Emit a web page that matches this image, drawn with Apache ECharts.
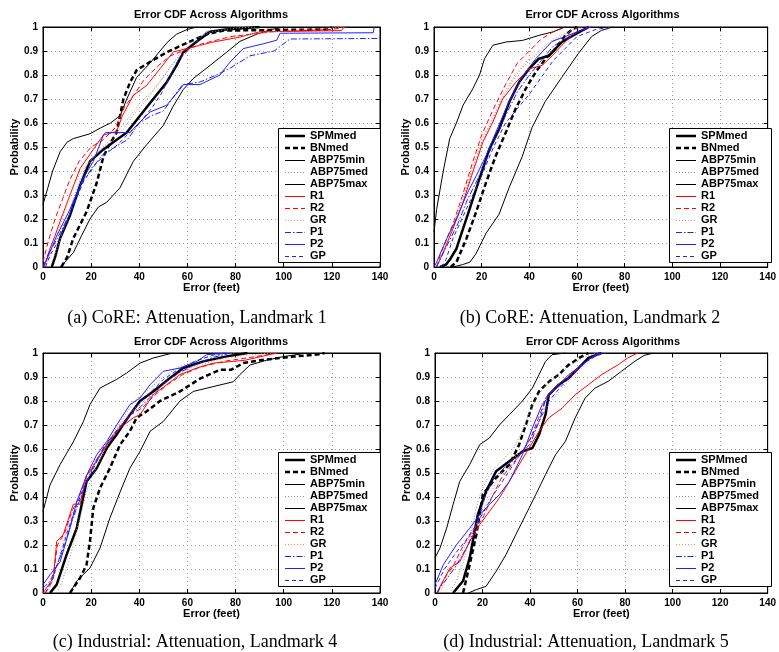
<!DOCTYPE html>
<html><head><meta charset="utf-8">
<script src="https://cdn.jsdelivr.net/npm/echarts@6/dist/echarts.min.js"></script>
<style>html,body{margin:0;padding:0;background:#fff}#c{width:779px;height:652px}</style>
</head><body><div id="c"></div><script>
// ---- data: [error (feet), cumulative probability] ----
const seriesNames = ['SPMmed','BNmed','ABP75min','ABP75med','ABP75max','R1','R2','GR','P1','P2','GP'];
const xTicks = [0,20,40,60,80,100,120,140];
const yTicks = [0,0.1,0.2,0.3,0.4,0.5,0.6,0.7,0.8,0.9,1];
const panelTitle = 'Error CDF Across Algorithms';
const captions = ['(a) CoRE: Attenuation, Landmark 1','(b) CoRE: Attenuation, Landmark 2','(c) Industrial: Attenuation, Landmark 4','(d) Industrial: Attenuation, Landmark 5'];

// Panel (a)
const a_SPMmed = [[3.6,0],[5,0.04],[7.1,0.12],[11.2,0.215],[15.4,0.34],[19.5,0.44],[25.1,0.49],[29.2,0.52],[34.8,0.56],[40.3,0.63],[45.8,0.70],[51.4,0.77],[55.5,0.84],[58.3,0.895],[63.9,0.94],[69.4,0.98],[76,0.99],[90,1]];
const a_BNmed = [[7.6,0],[10,0.04],[12.6,0.12],[18.1,0.23],[22.3,0.35],[25.1,0.46],[27,0.5],[30.6,0.56],[33.4,0.70],[36.2,0.77],[38.9,0.82],[44.5,0.855],[51.4,0.895],[60,0.935],[68,0.97],[75,0.985],[118,0.99],[120,1]];
const a_ABP75min = [[0,0.26],[2,0.33],[4,0.4],[7.1,0.48],[10,0.52],[12.6,0.535],[19.5,0.555],[24,0.58],[28,0.6],[32,0.63],[34.8,0.70],[38.9,0.79],[44.5,0.85],[48.6,0.9],[52,0.94],[55.5,0.97],[60,0.99],[64,1]];
const a_ABP75med = [[3,0],[6,0.08],[10,0.2],[14,0.33],[18,0.42],[23,0.48],[28,0.52],[33,0.57],[38,0.64],[44,0.71],[50,0.79],[54,0.85],[58,0.9],[63,0.95],[70,0.98],[80,0.995],[88,1]];
const a_ABP75max = [[7.1,0],[10,0.03],[12.6,0.06],[16,0.13],[19.5,0.2],[23,0.25],[26.5,0.27],[32,0.33],[37.5,0.44],[43.1,0.51],[50,0.59],[54.1,0.67],[58.3,0.74],[62.4,0.785],[69.4,0.84],[76.3,0.895],[81.8,0.94],[88.8,0.97],[95,0.99],[100,1]];
const a_R1 = [[0.5,0],[2.9,0.076],[5,0.13],[7.1,0.19],[11.2,0.3],[15.4,0.41],[20.9,0.49],[25.1,0.55],[30.6,0.565],[33,0.63],[37.5,0.715],[43.1,0.757],[48.6,0.826],[54.1,0.896],[59.7,0.91],[70.8,0.9375],[81.8,0.958],[90,0.98],[124,0.985],[125,1]];
const a_R2 = [[0,0.02],[2,0.1],[5,0.2],[8,0.28],[11,0.36],[15,0.44],[20,0.5],[25,0.53],[30,0.58],[34,0.67],[38,0.72],[42,0.78],[48,0.84],[53,0.88],[58,0.9],[66,0.93],[78,0.96],[95,0.98],[120,0.99],[126,1]];
const a_GR = [[1,0],[4,0.08],[8,0.2],[12,0.32],[16,0.4],[22,0.47],[28,0.53],[34,0.6],[40,0.68],[46,0.74],[52,0.82],[57,0.88],[64,0.92],[75,0.95],[90,0.975],[110,0.99],[125,1]];
const a_P1 = [[0,0],[2,0.05],[6,0.12],[11,0.22],[16,0.35],[21,0.42],[25,0.47],[30,0.5],[35,0.53],[40,0.6],[45,0.63],[50,0.65],[55,0.72],[58,0.76],[65,0.77],[72,0.8],[78,0.83],[86,0.88],[96,0.9],[102.6,0.95],[150,0.953]];
const a_P2 = [[0,0],[1.5,0.03],[5.7,0.13],[11.2,0.24],[16.7,0.37],[20.9,0.44],[25.1,0.55],[26,0.56],[36.1,0.56],[38.9,0.59],[44.5,0.646],[51.4,0.674],[56.9,0.74],[58.3,0.76],[65.2,0.76],[73.5,0.80],[77.7,0.854],[83.2,0.91],[91.5,0.93],[97.1,0.945],[98.5,0.974],[137.2,0.976],[137.6,1]];
const a_GP = [[1,0],[3,0.05],[7,0.12],[12,0.24],[17,0.36],[22,0.43],[26,0.47],[31,0.51],[36,0.56],[40,0.6],[45,0.66],[49,0.72],[53,0.8],[56,0.86],[60,0.9],[64,0.94],[68,0.98],[70,1]];

// Panel (b)
const b_SPMmed = [[2.5,0],[5,0.01],[6.6,0.03],[9.4,0.076],[12.2,0.16],[15,0.243],[19.1,0.368],[23.3,0.493],[27.4,0.576],[31.6,0.6875],[35.7,0.77],[39.9,0.826],[44,0.868],[48.2,0.88],[51,0.91],[53.7,0.9375],[59.3,0.97],[65,1]];
const b_BNmed = [[7,0],[9.4,0.02],[13.6,0.118],[17.7,0.23],[21.9,0.354],[26,0.465],[30.2,0.5625],[34.3,0.66],[38.5,0.743],[42.7,0.8125],[46.8,0.868],[51,0.91],[55.1,0.965],[57.9,0.99],[60,1]];
const b_ABP75min = [[0,0.146],[1.1,0.24],[3.9,0.4],[6.6,0.535],[9.4,0.6],[12.2,0.674],[16.3,0.743],[19.1,0.8],[21.2,0.868],[24.7,0.924],[30.2,0.9375],[37.1,0.944],[44,0.965],[50,0.98],[55,1]];
const b_ABP75med = [[1,0],[4,0.06],[8,0.17],[12,0.28],[16,0.4],[20,0.52],[24,0.6],[28,0.69],[32,0.76],[36,0.82],[40,0.86],[45,0.9],[50,0.94],[55,0.97],[62,1]];
const b_ABP75max = [[8,0],[12,0.01],[15,0.02],[17.6,0.055],[21.8,0.14],[27.3,0.22],[31.5,0.33],[37,0.46],[41.1,0.58],[46.7,0.69],[53.6,0.79],[60.6,0.89],[66.1,0.96],[70.3,0.986],[75,1]];
const b_R1 = [[1.1,0],[3.9,0.0625],[8,0.16],[12.2,0.27],[16.3,0.396],[20.5,0.52],[24.7,0.604],[28.8,0.70],[34.3,0.77],[39.9,0.826],[45.4,0.84],[49.6,0.88],[53.7,0.924],[57.9,0.965],[62,0.99],[66,1]];
const b_R2 = [[1,0],[3,0.06],[8,0.18],[12,0.3],[16,0.43],[20,0.55],[25,0.66],[30,0.76],[35,0.85],[40,0.9],[45,0.95],[50,0.98],[55,1]];
const b_GR = [[1,0],[4,0.07],[8,0.17],[12,0.29],[16,0.41],[20,0.53],[25,0.63],[29,0.72],[34,0.8],[39,0.86],[44,0.9],[50,0.95],[56,0.98],[62,1]];
const b_P1 = [[1,0],[2,0.02],[6,0.1],[10,0.18],[14,0.28],[18,0.36],[22,0.45],[26,0.54],[30,0.63],[35,0.73],[40,0.8],[45,0.86],[50,0.92],[55,0.95],[60,0.98],[65,1]];
const b_P2 = [[0,0],[1.1,0.02],[5.3,0.118],[9.4,0.2],[13.6,0.3],[17.7,0.38],[21.9,0.465],[26,0.5625],[30.2,0.66],[34.3,0.743],[38.5,0.8125],[42.7,0.868],[45.4,0.896],[49.5,0.94],[55,0.96],[60,0.98],[66,1]];
const b_GP = [[3,0],[5,0.03],[8,0.12],[14,0.25],[20,0.38],[25,0.5],[30,0.6],[35,0.66],[40,0.72],[45,0.79],[50,0.86],[55,0.91],[60,0.96],[68,0.99],[75,1]];

// Panel (c)
const c_SPMmed = [[2.9,0],[5.7,0.035],[9.8,0.16],[14,0.27],[18.1,0.465],[22.3,0.52],[26.5,0.604],[30.6,0.66],[36.1,0.743],[40.3,0.8],[45.8,0.84],[52.8,0.896],[58.3,0.9375],[66.6,0.965],[76.3,0.986],[85,1]];
const c_BNmed = [[11.2,0],[15.4,0.0625],[18.1,0.118],[19.5,0.215],[20.9,0.354],[23.7,0.4375],[27.8,0.52],[32,0.618],[36.1,0.674],[38.9,0.73],[43.1,0.757],[48.6,0.8],[56.9,0.84],[65.2,0.893],[73.5,0.93],[78.1,0.93],[83.2,0.958],[90.2,0.97],[104,0.985],[115,0.995],[117,1]];
const c_ABP75min = [[0,0.34],[2.9,0.45],[7.1,0.535],[12.6,0.63],[16.8,0.715],[19.5,0.785],[23.7,0.854],[30.6,0.89],[34.8,0.917],[40.3,0.958],[45.8,0.979],[52,0.995],[54,1]];
const c_ABP75med = [[6,0],[8,0.05],[11,0.14],[15,0.3],[18,0.42],[21,0.5],[25,0.58],[29,0.66],[34,0.74],[38,0.8],[44,0.85],[50,0.9],[56,0.94],[64,0.97],[72,0.99],[80,1]];
const c_ABP75max = [[11.2,0],[14,0.05],[19.5,0.104],[23.7,0.1875],[27.8,0.3125],[32,0.42],[36.1,0.52],[40.3,0.59],[44.5,0.674],[50,0.715],[56.9,0.8],[62.5,0.84],[70.7,0.86],[79,0.88],[81.8,0.91],[86,0.95],[92.9,0.97],[99.8,0.985],[106.7,0.995],[108,1]];
const c_R1 = [[0,0],[4.3,0.0625],[5.7,0.215],[8.4,0.243],[12.6,0.37],[15.4,0.37],[18.1,0.49],[22.3,0.55],[26.5,0.618],[32,0.6875],[37.5,0.73],[40.3,0.743],[45.8,0.826],[51.4,0.868],[56.9,0.91],[63.9,0.9375],[70.8,0.958],[79,0.965],[84,0.97],[97,1]];
const c_R2 = [[1,0],[4,0.05],[6,0.2],[9,0.25],[12,0.34],[15,0.4],[18,0.48],[22,0.55],[26,0.61],[31,0.68],[36,0.74],[41,0.77],[46,0.82],[52,0.87],[58,0.91],[65,0.94],[75,0.965],[85,0.98],[98,1]];
const c_GR = [[2,0],[5,0.08],[8,0.2],[12,0.33],[16,0.42],[19,0.5],[23,0.57],[27,0.63],[32,0.7],[37,0.76],[42,0.8],[48,0.85],[54,0.9],[62,0.94],[72,0.97],[84,0.99],[95,1]];
const c_P1 = [[0,0.02],[3,0.05],[6,0.12],[9,0.2],[12,0.3],[15,0.38],[18,0.46],[22,0.55],[26,0.62],[31,0.68],[36,0.74],[41,0.78],[46,0.83],[51,0.88],[57,0.92],[63,0.95],[70,0.98],[78,1]];
const c_P2 = [[0,0.035],[2.9,0.076],[7.1,0.13],[11.2,0.27],[14,0.38],[18.1,0.49],[22.3,0.576],[26.5,0.632],[30.6,0.70],[36.1,0.785],[40.3,0.8125],[44.5,0.868],[50,0.924],[56.9,0.9375],[63.9,0.965],[68,0.993],[76.3,1]];
const c_GP = [[1,0],[4,0.06],[7,0.15],[10,0.25],[13,0.34],[17,0.44],[21,0.52],[25,0.6],[30,0.67],[35,0.73],[40,0.79],[45,0.84],[50,0.89],[56,0.93],[62,0.96],[70,0.99],[76,1]];

// Panel (d)
const d_SPMmed = [[7.6,0],[11.8,0.05],[14.6,0.146],[18,0.326],[21.5,0.424],[25.7,0.507],[31.3,0.549],[36.8,0.59],[41,0.604],[43.8,0.66],[46.5,0.743],[47.9,0.826],[52.1,0.868],[56.3,0.896],[60.4,0.9375],[64.6,0.98],[70,1]];
const d_BNmed = [[11.8,0],[14.6,0.118],[17.4,0.243],[20.1,0.41],[25.7,0.48],[31.3,0.535],[35.4,0.618],[38.2,0.70],[41,0.785],[43.8,0.84],[47.9,0.88],[52.1,0.91],[56.3,0.951],[61.8,0.986],[64.6,1]];
const d_ABP75min = [[0,0.146],[2.1,0.1875],[4.9,0.27],[7.6,0.368],[10.4,0.465],[14.6,0.535],[18.8,0.618],[22.9,0.646],[27.1,0.7],[31.3,0.743],[36.8,0.8],[41,0.854],[43.8,0.91],[46.5,0.965],[49.3,0.993],[54.9,1]];
const d_ABP75med = [[6,0],[9,0.05],[12,0.13],[15,0.25],[18,0.38],[21,0.46],[25,0.52],[29,0.56],[33,0.6],[37,0.68],[40,0.76],[43,0.82],[47,0.87],[52,0.91],[57,0.95],[62,0.98],[68,1]];
const d_ABP75max = [[14,0],[17.4,0.014],[21.5,0.028],[25.7,0.09],[29.9,0.16],[34,0.243],[38.2,0.326],[42.4,0.41],[46.5,0.493],[50.7,0.576],[54.9,0.632],[59,0.73],[63.2,0.8125],[67.4,0.854],[72.9,0.882],[78.5,0.924],[84,0.965],[88,0.99],[92,1]];
const d_R1 = [[0.7,0],[6.3,0.104],[10.4,0.13],[14.6,0.215],[18.8,0.285],[22.9,0.34],[27.1,0.396],[31.3,0.465],[35.4,0.535],[39.6,0.604],[43.8,0.674],[47.9,0.73],[53.5,0.77],[59,0.826],[64.6,0.868],[70.1,0.91],[77.1,0.951],[81.2,0.98],[85.4,1]];
const d_R2 = [[1,0],[4,0.06],[8,0.12],[12,0.2],[16,0.26],[20,0.31],[24,0.4],[28,0.48],[32,0.53],[36,0.58],[40,0.64],[44,0.74],[47,0.82],[52,0.87],[57,0.91],[62,0.95],[67,0.99],[70,1]];
const d_GR = [[2,0],[5,0.06],[9,0.13],[13,0.2],[17,0.28],[21,0.36],[25,0.45],[29,0.52],[33,0.56],[37,0.6],[41,0.66],[45,0.74],[49,0.8],[54,0.86],[60,0.92],[65,0.97],[70,1]];
const d_P1 = [[1,0],[2,0.02],[8,0.1],[14,0.2],[18,0.3],[21,0.4],[25,0.48],[30,0.53],[35,0.57],[40,0.62],[44,0.72],[47,0.82],[52,0.86],[58,0.91],[62,0.95],[66,0.98],[70,1]];
const d_P2 = [[0,0.035],[3.5,0.118],[9,0.2],[14.6,0.27],[18.8,0.326],[22.9,0.368],[27.1,0.41],[31.3,0.465],[36.8,0.576],[41,0.6875],[45.1,0.785],[50.7,0.854],[56.3,0.91],[61.8,0.951],[67.4,0.993],[70,1]];
const d_GP = [[0,0.02],[4,0.1],[9,0.17],[13,0.22],[17,0.28],[20,0.33],[24,0.4],[28,0.46],[32,0.52],[36,0.58],[40,0.64],[44,0.72],[48,0.8],[53,0.86],[58,0.91],[63,0.96],[68,0.99],[72,1]];

const panelData = [
  [a_SPMmed,a_BNmed,a_ABP75min,a_ABP75med,a_ABP75max,a_R1,a_R2,a_GR,a_P1,a_P2,a_GP],
  [b_SPMmed,b_BNmed,b_ABP75min,b_ABP75med,b_ABP75max,b_R1,b_R2,b_GR,b_P1,b_P2,b_GP],
  [c_SPMmed,c_BNmed,c_ABP75min,c_ABP75med,c_ABP75max,c_R1,c_R2,c_GR,c_P1,c_P2,c_GP],
  [d_SPMmed,d_BNmed,d_ABP75min,d_ABP75med,d_ABP75max,d_R1,d_R2,d_GR,d_P1,d_P2,d_GP]
];

// ---- styling / layout ----
const FONT = '"Liberation Sans", Arial, Helvetica, sans-serif';
const lineStyles = {
  SPMmed:   {color:'#000000', width:2.5, type:'solid'},
  BNmed:    {color:'#000000', width:2.5, type:[5,3]},
  ABP75min: {color:'#000000', width:1, type:'solid'},
  ABP75med: {color:'#8c8c8c', width:1, type:[1,2]},
  ABP75max: {color:'#000000', width:1, type:'solid'},
  R1:       {color:'#ff0000', width:1, type:'solid'},
  R2:       {color:'#ff0000', width:1, type:[5,3]},
  GR:       {color:'#ff8080', width:1, type:[1,2]},
  P1:       {color:'#2020ff', width:1, type:[6,2,1.5,2]},
  P2:       {color:'#2020ff', width:1, type:'solid'},
  GP:       {color:'#2020ff', width:1, type:[4,3]}
};
const gridBoxes = [
  {left:43, top:27, width:337, height:240},
  {left:434, top:27, width:337, height:240},
  {left:43, top:353, width:337, height:240},
  {left:435, top:353, width:336, height:240}
];
const legendPos = [[278,128],[669,128],[278,452],[669,452]];
const legendBox = {w:102, h:134, rowH:12, firstRow:8, lineX0:7, lineX1:27, textX:32};
const titlePos = [[211,15],[602.5,15],[211,342],[603,342]];
const captionPos = [[197,318],[590,318],[195,642],[586,642]];

const grids = gridBoxes.map(g => Object.assign({show:true, borderColor:'#000', borderWidth:1, backgroundColor:'#fff'}, g));
const xAxes = [], yAxes = [];
const baseX = {type:'value', min:xTicks[0], max:xTicks[xTicks.length-1], interval:xTicks[1]-xTicks[0]};
const baseY = {type:'value', min:yTicks[0], max:yTicks[yTicks.length-1], interval:0.1};
for (let i=0;i<4;i++){
  xAxes.push(Object.assign({}, baseX, {
    gridIndex:i, position:'bottom',
    axisLine:{show:true, onZero:false, lineStyle:{color:'#000', width:1}},
    axisTick:{show:true, inside:true, length:4, lineStyle:{color:'#000'}},
    axisLabel:{color:'#000', fontFamily:FONT, fontWeight:'bold', fontSize:10, margin:5},
    splitLine:{show:true, lineStyle:{color:'#9a9a9a', width:1, type:[1,3]}},
    name:'Error (feet)', nameLocation:'middle', nameGap:14,
    nameTextStyle:{color:'#000', fontFamily:FONT, fontWeight:'bold', fontSize:11}
  }));
  yAxes.push(Object.assign({}, baseY, {
    gridIndex:i, position:'left',
    axisLine:{show:true, onZero:false, lineStyle:{color:'#000', width:1}},
    axisTick:{show:true, inside:true, length:4, lineStyle:{color:'#000'}},
    axisLabel:{color:'#000', fontFamily:FONT, fontWeight:'bold', fontSize:10, margin:5},
    splitLine:{show:true, lineStyle:{color:'#9a9a9a', width:1, type:[1,3]}},
    name:'Probability', nameLocation:'middle', nameGap:19,
    nameTextStyle:{color:'#000', fontFamily:FONT, fontWeight:'bold', fontSize:11}
  }));
}
for (let i=0;i<4;i++){
  xAxes.push(Object.assign({}, baseX, {
    gridIndex:i, position:'top',
    axisLine:{show:true, onZero:false, lineStyle:{color:'#000', width:1}},
    axisTick:{show:true, inside:true, length:4, lineStyle:{color:'#000'}},
    axisLabel:{show:false}, splitLine:{show:false}
  }));
  yAxes.push(Object.assign({}, baseY, {
    gridIndex:i, position:'right',
    axisLine:{show:true, onZero:false, lineStyle:{color:'#000', width:1}},
    axisTick:{show:true, inside:true, length:4, lineStyle:{color:'#000'}},
    axisLabel:{show:false}, splitLine:{show:false}
  }));
}

const series = [];
panelData.forEach((arrs, p) => {
  arrs.forEach((data, k) => {
    const nm = seriesNames[k];
    series.push({
      type:'line', name:nm, xAxisIndex:p, yAxisIndex:p, data:data,
      symbol:'none', showSymbol:false, smooth:false, clip:true,
      lineStyle:lineStyles[nm], itemStyle:{color:lineStyles[nm].color},
      animation:false, silent:true
    });
  });
});

const graphics = [];
// Legend boxes (key), one per panel, built from the series names and styles
legendPos.forEach(lp => {
  const [lx, ly] = lp;
  graphics.push({type:'rect', z:100, silent:true,
    shape:{x:lx+0.5, y:ly+0.5, width:legendBox.w, height:legendBox.h},
    style:{fill:'#fff', stroke:'#000', lineWidth:1}});
  seriesNames.forEach((nm, i) => {
    const s = lineStyles[nm];
    const cy = ly + legendBox.firstRow + i*legendBox.rowH + (s.width === 1 ? 0.5 : 0);
    graphics.push({type:'line', z:101, silent:true,
      shape:{x1:lx+legendBox.lineX0, y1:cy, x2:lx+legendBox.lineX1, y2:cy},
      style:{stroke:s.color, lineWidth:s.width, opacity:1, lineDash:(Array.isArray(s.type) ? s.type : 'solid')}});
    graphics.push({type:'text', z:101, silent:true, x:lx+legendBox.textX, y:ly + legendBox.firstRow + i*legendBox.rowH,
      style:{text:nm, fill:'#000', font:'bold 11px '+FONT, align:'left', verticalAlign:'middle', textAlign:'left', textVerticalAlign:'middle'}});
  });
});
titlePos.forEach(tp => graphics.push({
  type:'text', x:tp[0], y:tp[1], z:20,
  style:{text:panelTitle, fill:'#000', font:'bold 11px '+FONT, align:'center', verticalAlign:'middle', textAlign:'center', textVerticalAlign:'middle'}
}));
captionPos.forEach((cp, i) => graphics.push({
  type:'text', x:cp[0], y:cp[1], z:20,
  style:{text:captions[i], fill:'#000', font:'18px "Liberation Serif", "Times New Roman", serif', align:'center', verticalAlign:'middle', textAlign:'center', textVerticalAlign:'middle'}
}));

const chart = echarts.init(document.getElementById('c'), null, {renderer:'canvas', width:779, height:652});
chart.setOption({
  backgroundColor:'#fff', animation:false,
  grid:grids, xAxis:xAxes, yAxis:yAxes,
  series:series, graphic:graphics
});
</script></body></html>
